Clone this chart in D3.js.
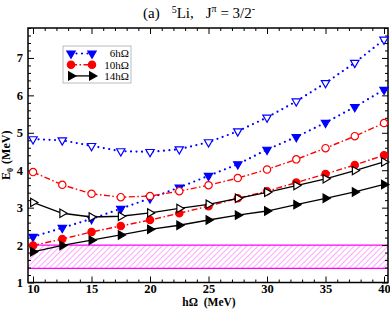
<!DOCTYPE html>
<html>
<head>
<meta charset="utf-8">
<script src="https://cdn.jsdelivr.net/npm/d3@7"></script>
<style>
  body { margin: 0; background: #fff; }
  svg text { font-family: "Liberation Serif", "Times New Roman", serif; }
</style>
</head>
<body>
<div id="chart"></div>
<script>
const hw = [10, 12.5, 15, 17.5, 20, 22.5, 25, 27.5, 30, 32.5, 35, 37.5, 40];

// filled symbols (labelled in legend) and open symbols
const n6Filled  = [2.22, 2.46, 2.70, 2.97, 3.25, 3.54, 3.85, 4.16, 4.55, 4.89, 5.27, 5.69, 6.15];
const n6Open    = [4.83, 4.80, 4.65, 4.51, 4.49, 4.56, 4.75, 5.04, 5.41, 5.84, 6.33, 6.87, 7.49];
const n10Filled = [1.99, 2.16, 2.35, 2.51, 2.67, 2.85, 3.04, 3.25, 3.44, 3.67, 3.90, 4.14, 4.40];
const n10Open   = [3.95, 3.61, 3.37, 3.28, 3.31, 3.44, 3.60, 3.79, 4.02, 4.29, 4.59, 4.91, 5.26];
const n14Filled = [1.82, 1.99, 2.13, 2.27, 2.42, 2.53, 2.67, 2.80, 2.91, 3.08, 3.25, 3.42, 3.62];
const n14Open   = [3.14, 2.85, 2.75, 2.77, 2.86, 2.98, 3.09, 3.25, 3.41, 3.59, 3.77, 3.99, 4.22];

const legendLabels = ["6hΩ", "10hΩ", "14hΩ"];
const band = [1.38, 2.0];   // hatched experimental band

const xMajor = [10, 15, 20, 25, 30, 35, 40];
const yMajor = [1, 2, 3, 4, 5, 6, 7];

const W = 390, H = 309;
const pLeft = 28, pRight = 388, pTop = 28, pBottom = 282.5;

const svg = d3.select("#chart").append("svg")
    .attr("width", W)
    .attr("height", H);

const x = d3.scaleLinear().domain([9.57, 40.34]).range([pLeft, pRight]);
const y = d3.scaleLinear().domain([1, 7.8]).range([pBottom, pTop]);

// hatch pattern
const defs = svg.append("defs");
const pat = defs.append("pattern")
    .attr("id", "hatch")
    .attr("patternUnits", "userSpaceOnUse")
    .attr("width", 4)
    .attr("height", 4)
    .attr("patternTransform", "rotate(45)");
pat.append("line")
    .attr("x1", 0).attr("y1", 0)
    .attr("x2", 0).attr("y2", 4)
    .attr("stroke", "#ff00ff")
    .attr("stroke-width", 0.7);

svg.append("rect")
    .attr("x", pLeft)
    .attr("y", y(band[1]))
    .attr("width", pRight - pLeft)
    .attr("height", y(band[0]) - y(band[1]))
    .attr("fill", "url(#hatch)");
svg.selectAll(".bandline")
    .data(band)
    .enter().append("line")
    .attr("x1", pLeft).attr("x2", pRight)
    .attr("y1", d => y(d)).attr("y2", d => y(d))
    .attr("stroke", "#ff00ff")
    .attr("stroke-width", 1.2);

// axes (ticks pointing inward, mirrored on top/right)
const xMinor = d3.range(10, 41, 1).filter(v => v % 5 !== 0);
const yMinor = d3.range(1.2, 7.81, 0.2).filter(v => Math.abs(v - Math.round(v)) > 0.01);

const axisStyle = g => {
    g.attr("font-family", null);
    g.select(".domain").remove();
    g.selectAll("line").attr("stroke", "#000").attr("stroke-width", 1);
    g.selectAll("text")
        .attr("font-weight", "bold")
        .attr("font-size", 12.5)
        .attr("fill", "#000");
};

svg.append("g")
    .attr("transform", `translate(0,${pBottom})`)
    .call(d3.axisBottom(x).tickValues(xMajor).tickSize(-6).tickPadding(1.5).tickFormat(d3.format("d")))
    .call(axisStyle);
svg.append("g")
    .attr("transform", `translate(0,${pBottom})`)
    .call(d3.axisBottom(x).tickValues(xMinor).tickSize(-3).tickFormat(""))
    .call(axisStyle);
svg.append("g")
    .attr("transform", `translate(0,${pTop})`)
    .call(d3.axisTop(x).tickValues(xMajor).tickSize(-6).tickFormat(""))
    .call(axisStyle);
svg.append("g")
    .attr("transform", `translate(0,${pTop})`)
    .call(d3.axisTop(x).tickValues(xMinor).tickSize(-3).tickFormat(""))
    .call(axisStyle);

svg.append("g")
    .attr("transform", `translate(${pLeft},0)`)
    .call(d3.axisLeft(y).tickValues(yMajor).tickSize(-6).tickPadding(5).tickFormat(d3.format("d")))
    .call(axisStyle);
svg.append("g")
    .attr("transform", `translate(${pLeft},0)`)
    .call(d3.axisLeft(y).tickValues(yMinor).tickSize(-3).tickFormat(""))
    .call(axisStyle);
svg.append("g")
    .attr("transform", `translate(${pRight},0)`)
    .call(d3.axisRight(y).tickValues(yMajor).tickSize(-6).tickFormat(""))
    .call(axisStyle);
svg.append("g")
    .attr("transform", `translate(${pRight},0)`)
    .call(d3.axisRight(y).tickValues(yMinor).tickSize(-3).tickFormat(""))
    .call(axisStyle);

// frame
svg.append("rect")
    .attr("x", pLeft).attr("y", pTop)
    .attr("width", pRight - pLeft).attr("height", pBottom - pTop)
    .attr("fill", "none")
    .attr("stroke", "#000")
    .attr("stroke-width", 1.5);

// series
const blue = "#0000ff", red = "#ff0000", black = "#000000";
const triDown = d3.symbol().type(d3.symbolTriangle).size(30);
const circ = d3.symbol().type(d3.symbolCircle).size(42);
const triRight = d3.symbol().type(d3.symbolTriangle).size(30);

const series = [
    { vals: n6Open, color: blue, dash: "0,5.5", width: 2.2, cap: "round", sym: triDown, rot: 180, filled: false },
    { vals: n6Filled, color: blue, dash: "0,5.5", width: 2.2, cap: "round", sym: triDown, rot: 180, filled: true },
    { vals: n10Open, color: red, dash: "6,2.5,1.5,2.5", width: 1.4, cap: "butt", sym: circ, rot: 0, filled: false },
    { vals: n10Filled, color: red, dash: "6,2.5,1.5,2.5", width: 1.4, cap: "butt", sym: circ, rot: 0, filled: true },
    { vals: n14Open, color: black, dash: null, width: 1.3, cap: "butt", sym: triRight, rot: 90, filled: false },
    { vals: n14Filled, color: black, dash: null, width: 1.3, cap: "butt", sym: triRight, rot: 90, filled: true }
];

const line = d3.line().x(d => x(d[0])).y(d => y(d[1]));

series.forEach(s => {
    const pts = hw.map((h, i) => [h, s.vals[i]]);
    svg.append("path")
        .datum(pts)
        .attr("d", line)
        .attr("fill", "none")
        .attr("stroke", s.color)
        .attr("stroke-width", s.width)
        .attr("stroke-linecap", s.cap)
        .attr("stroke-dasharray", s.dash);
    svg.append("g").selectAll("path")
        .data(pts)
        .enter().append("path")
        .attr("d", s.sym)
        .attr("transform", d => `translate(${x(d[0])},${y(d[1])}) rotate(${s.rot})`)
        .attr("fill", s.filled ? s.color : "#fff")
        .attr("stroke", s.color)
        .attr("stroke-width", 1.2);
});

// legend
const legend = svg.append("g").attr("transform", "translate(63,46)");
legend.append("rect")
    .attr("width", 68).attr("height", 37)
    .attr("fill", "#fff")
    .attr("stroke", "#aaa")
    .attr("stroke-width", 0.8);
legendLabels.forEach((lab, i) => {
    const s = series[i * 2 + 1];
    const ly = 7.5 + i * 11.2;
    const row = legend.append("g").attr("transform", `translate(0,${ly})`);
    row.append("line")
        .attr("x1", 8).attr("x2", 29)
        .attr("stroke", s.color)
        .attr("stroke-width", s.width)
        .attr("stroke-linecap", s.cap)
        .attr("stroke-dasharray", s.dash);
    [8, 29].forEach(px => {
        row.append("path")
            .attr("d", s.sym)
            .attr("transform", `translate(${px},0) rotate(${s.rot})`)
            .attr("fill", s.color)
            .attr("stroke", s.color)
            .attr("stroke-width", 1.2);
    });
    row.append("text")
        .attr("x", 66).attr("y", 3.8)
        .attr("text-anchor", "end")
        .attr("font-size", 11)
        .text(lab);
});

// title
const title = svg.append("text")
    .attr("x", 143).attr("y", 18)
    .attr("font-size", 15);
title.append("tspan").text("(a)");
title.append("tspan").attr("dx", 12).attr("dy", -5).attr("font-size", 10).text("5");
title.append("tspan").attr("dy", 5).text("Li,");
title.append("tspan").attr("dx", 12).text("J");
title.append("tspan").attr("dy", -6).attr("font-size", 10).text("π");
title.append("tspan").attr("dy", 6).text(" = 3/2");
title.append("tspan").attr("dy", -6).attr("font-size", 10).text("-");

// axis labels
svg.append("text")
    .attr("x", 209).attr("y", 306)
    .attr("text-anchor", "middle")
    .attr("font-weight", "bold")
    .attr("font-size", 11.5)
    .attr("xml:space", "preserve")
    .text("hΩ  (MeV)");

const yl = svg.append("text")
    .attr("transform", `translate(10,${(pTop + pBottom) / 2}) rotate(-90)`)
    .attr("text-anchor", "middle")
    .attr("font-weight", "bold")
    .attr("font-size", 12);
yl.append("tspan").text("E");
yl.append("tspan").attr("dy", 3).attr("font-size", 8).text("0");
yl.append("tspan").attr("dy", -3).attr("dx", 4).text("(MeV)");
</script>
</body>
</html>
